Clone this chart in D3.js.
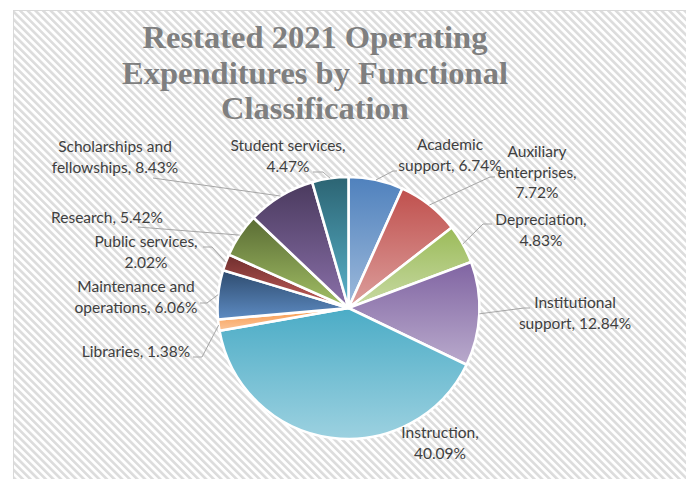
<!DOCTYPE html>
<html>
<head>
<meta charset="utf-8">
<script src="https://cdn.jsdelivr.net/npm/d3@7"></script>
<style>
  body { margin: 0; background: #fff; }
  svg { display: block; }
</style>
</head>
<body>
<svg id="svg"></svg>
<script>
// data
const categories = ["Academic support", "Auxiliary enterprises", "Depreciation", "Institutional support",
    "Instruction", "Libraries", "Maintenance and operations", "Public services", "Research",
    "Scholarships and fellowships", "Student services"];
const shares = [6.74, 7.72, 4.83, 12.84, 40.09, 1.38, 6.06, 2.02, 5.42, 8.43, 4.47];
const titleLines = ["Restated 2021 Operating", "Expenditures by Functional", "Classification"];

// Office palette, second round of slices uses darker shades
const baseColours = ["#4f81bd", "#c0504d", "#9bbb59", "#8064a2", "#4bacc6", "#f79646"];

// where each label sits: centre x, first baseline, word breaks, leader attach point and knee
const labelLayout = [
    { x: 450, y: 150, br: [1], at: [397, 171], knee: [393, 171] },
    { x: 537, y: 157, br: [1, 2], at: [495, 177], knee: [490, 177] },
    { x: 541, y: 225, br: [1], at: [492, 224], knee: [483, 224] },
    { x: 575, y: 308, br: [1], at: [530, 308], knee: [524, 308] },
    { x: 440, y: 438, br: [1], at: null, knee: null },
    { x: 136, y: 357, br: [], at: [193, 357], knee: [202, 357] },
    { x: 136, y: 292, br: [2], at: [200, 303], knee: [207, 303] },
    { x: 146, y: 247, br: [2], at: [203, 247], knee: [212, 247] },
    { x: 107, y: 223, br: [], at: [138, 227], knee: null },
    { x: 115, y: 152, br: [2], at: [153, 178], knee: null },
    { x: 288, y: 151, br: [2], at: [313, 172], knee: [323, 172] }
];

const width = 686;
const height = 479;
const cx = 348.5, cy = 308, radius = 131;

let svg = d3.select("#svg").attr("width", width).attr("height", height);
let defs = svg.append("defs");

// diagonal hatch background
let pat = defs.append("pattern")
    .attr("id", "hatch")
    .attr("patternUnits", "userSpaceOnUse")
    .attr("width", 5.4)
    .attr("height", 5.4)
    .attr("patternTransform", "rotate(-45)");
pat.append("rect").attr("width", 5.4).attr("height", 5.4).attr("fill", "#ffffff");
pat.append("rect").attr("width", 2.6).attr("height", 5.4).attr("fill", "#dcdcdc");

svg.append("rect")
    .attr("x", 13.5).attr("y", 10.5)
    .attr("width", width).attr("height", height)
    .attr("fill", "url(#hatch)")
    .attr("stroke", "#d9d9d9")
    .attr("stroke-width", 1);

// title
svg.append("g").selectAll("text")
    .data(titleLines)
    .join("text")
    .attr("x", 315)
    .attr("y", (d, i) => 48 + i * 35.5)
    .attr("text-anchor", "middle")
    .style("font-family", "'Liberation Serif', serif")
    .style("font-weight", "bold")
    .style("font-size", "32.5px")
    .style("fill", "#7f7f7f")
    .text(d => d);

// slice colours with a top-to-bottom gradient
function sliceColours(i) {
    let base = baseColours[i % 6];
    if (i < 6) {
        return [base, d3.interpolateRgb(base, "#ffffff")(0.45)];
    }
    return [d3.interpolateRgb(base, "#000000")(0.42), d3.interpolateRgb(base, "#ffffff")(0.08)];
}

shares.forEach((v, i) => {
    let c = sliceColours(i);
    let g = defs.append("linearGradient")
        .attr("id", "grad" + i)
        .attr("x1", 0).attr("y1", 0).attr("x2", 0).attr("y2", 1);
    g.append("stop").attr("offset", "0%").attr("stop-color", c[0]);
    g.append("stop").attr("offset", "100%").attr("stop-color", c[1]);
});

const pie = d3.pie().sort(null).value(d => d);
const arcs = pie(shares);
const arc = d3.arc().innerRadius(0).outerRadius(radius);
const edgeArc = d3.arc().innerRadius(radius).outerRadius(radius);

let chart = svg.append("g").attr("transform", `translate(${cx},${cy})`);

chart.selectAll(".slice")
    .data(arcs)
    .join("path")
    .attr("class", "slice")
    .attr("d", arc)
    .attr("fill", (d, i) => `url(#grad${i})`)
    .attr("stroke", "#ffffff")
    .attr("stroke-width", 2.6)
    .attr("stroke-linejoin", "round");

// leader lines
let leaders = svg.append("g");
arcs.forEach((d, i) => {
    let lay = labelLayout[i];
    if (!lay.at) return;
    let e = edgeArc.centroid(d);
    let pts = [[cx + e[0], cy + e[1]]];
    if (lay.knee) pts.push(lay.knee);
    pts.push(lay.at);
    leaders.append("path")
        .attr("d", d3.line()(pts))
        .attr("fill", "none")
        .attr("stroke", "#a6a6a6")
        .attr("stroke-width", 1);
});

// labels
function wrapLabel(i) {
    let words = `${categories[i]}, ${shares[i].toFixed(2)}%`.split(" ");
    let brs = labelLayout[i].br.concat([words.length]);
    let lines = [];
    let start = 0;
    for (let b of brs) {
        lines.push(words.slice(start, b).join(" "));
        start = b;
    }
    return lines;
}

let labels = svg.append("g");
categories.forEach((c, i) => {
    let lay = labelLayout[i];
    let t = labels.append("text")
        .attr("text-anchor", "middle")
        .style("font-family", "Lato, sans-serif")
        .style("font-size", "15.5px")
        .style("fill", "#404040");
    wrapLabel(i).forEach((line, j) => {
        t.append("tspan")
            .attr("x", lay.x)
            .attr("y", lay.y + j * 20.5)
            .text(line);
    });
});
</script>
</body>
</html>
